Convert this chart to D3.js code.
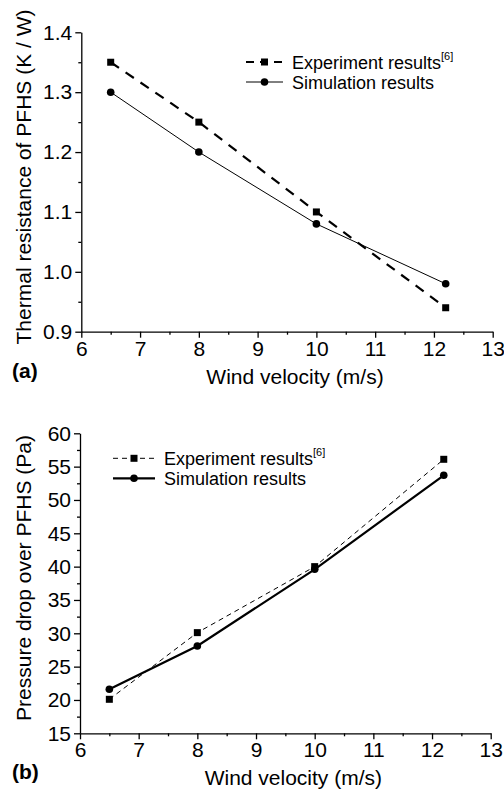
<!DOCTYPE html>
<html>
<head>
<meta charset="utf-8">
<script src="https://cdn.jsdelivr.net/npm/d3@7"></script>
<style>
    body { margin: 0; background: #fff; }
</style>
</head>
<body>
<div id="chart"></div>
<script>
// wind velocity (m/s)
const velocity = [6.5, 8, 10, 12.2];

// (a) thermal resistance (K / W)
const thermal_exp = [1.35, 1.25, 1.10, 0.94];
const thermal_sim = [1.30, 1.20, 1.08, 0.98];

// (b) pressure drop (Pa)
const pressure_exp = [20.1, 30.1, 40.0, 56.1];
const pressure_sim = [21.6, 28.1, 39.6, 53.7];

const x_ticks = [6, 7, 8, 9, 10, 11, 12, 13];
const thermal_ticks = [0.9, 1.0, 1.1, 1.2, 1.3, 1.4];
const pressure_ticks = [15, 20, 25, 30, 35, 40, 45, 50, 55, 60];

const FONT = "'Liberation Sans', Arial, Helvetica";

const svg = d3.select("#chart")
    .append("svg")
    .attr("width", 504)
    .attr("height", 795);

function draw_panel(param) {
    const g = svg.append("g");
    const left = param.left, right = param.right, top = param.top, bottom = param.bottom;

    let x = d3.scaleLinear().domain([6, 13]).range([left, right]);
    let y = d3.scaleLinear().domain(param.y_domain).range([bottom, top]);

    // minor ticks
    g.append("g")
        .attr("transform", "translate(0," + bottom + ")")
        .call(d3.axisBottom(x)
            .tickValues(d3.range(6.5, 13, 1))
            .tickSize(3)
            .tickFormat(""))
        .select(".domain").remove();
    g.append("g")
        .attr("transform", "translate(" + left + ",0)")
        .call(d3.axisLeft(y)
            .tickValues(param.y_minor)
            .tickSize(3)
            .tickFormat(""))
        .select(".domain").remove();

    g.append("g")
        .attr("transform", "translate(0," + bottom + ")")
        .call(d3.axisBottom(x)
            .tickValues(x_ticks)
            .tickSizeInner(6)
            .tickSizeOuter(0)
            .tickPadding(3)
            .tickFormat(d3.format("d")));

    g.append("g")
        .attr("transform", "translate(" + left + ",0)")
        .call(d3.axisLeft(y)
            .tickValues(param.y_ticks)
            .tickSizeInner(6)
            .tickSizeOuter(0)
            .tickPadding(3)
            .tickFormat(param.y_format));

    g.selectAll(".tick line, .domain")
        .attr("stroke", "#000")
        .attr("stroke-width", 1.3);
    g.selectAll(".tick text")
        .attr("fill", "#000")
        .style("font-family", FONT)
        .style("font-size", "21px");

    const exp = velocity.map((v, i) => ({x: v, y: param.exp[i]}));
    const sim = velocity.map((v, i) => ({x: v, y: param.sim[i]}));
    const line = d3.line().x(d => x(d.x)).y(d => y(d.y));

    g.append("path")
        .datum(exp)
        .attr("fill", "none")
        .attr("stroke", "#000")
        .attr("stroke-width", param.exp_width)
        .attr("stroke-dasharray", param.exp_dash)
        .attr("d", line);

    g.append("path")
        .datum(sim)
        .attr("fill", "none")
        .attr("stroke", "#000")
        .attr("stroke-width", param.sim_width)
        .attr("d", line);

    g.selectAll(".sq")
        .data(exp)
        .enter()
        .append("rect")
        .attr("x", d => x(d.x) - 3.5)
        .attr("y", d => y(d.y) - 3.5)
        .attr("width", 7)
        .attr("height", 7)
        .attr("fill", "#000");

    g.selectAll(".dot")
        .data(sim)
        .enter()
        .append("circle")
        .attr("cx", d => x(d.x))
        .attr("cy", d => y(d.y))
        .attr("r", 3.8)
        .attr("fill", "#000");

    // legend
    const lg = param.legend;
    g.append("line")
        .attr("x1", lg.x).attr("x2", lg.x + lg.len)
        .attr("y1", lg.y).attr("y2", lg.y)
        .attr("stroke", "#000")
        .attr("stroke-width", param.exp_width)
        .attr("stroke-dasharray", param.legend_dash);
    g.append("rect")
        .attr("x", lg.x + lg.len / 2 - 3.5)
        .attr("y", lg.y - 3.5)
        .attr("width", 7).attr("height", 7)
        .attr("fill", "#000");
    let t1 = g.append("text")
        .attr("x", lg.x + lg.len + 9)
        .attr("y", lg.y + 7)
        .style("font-family", FONT)
        .style("font-size", "18px");
    t1.append("tspan").text("Experiment results");
    t1.append("tspan").attr("dy", -9).style("font-size", "11px").text("[6]");

    g.append("line")
        .attr("x1", lg.x).attr("x2", lg.x + lg.len)
        .attr("y1", lg.y + 20).attr("y2", lg.y + 20)
        .attr("stroke", "#000")
        .attr("stroke-width", param.sim_width);
    g.append("circle")
        .attr("cx", lg.x + lg.len / 2)
        .attr("cy", lg.y + 20)
        .attr("r", 3.8)
        .attr("fill", "#000");
    g.append("text")
        .attr("x", lg.x + lg.len + 9)
        .attr("y", lg.y + 27)
        .style("font-family", FONT)
        .style("font-size", "18px")
        .text("Simulation results");

    // titles
    g.append("text")
        .attr("x", (left + right) / 2 + 8)
        .attr("y", bottom + 52)
        .attr("text-anchor", "middle")
        .style("font-family", FONT)
        .style("font-size", "21px")
        .text("Wind velocity (m/s)");

    g.append("text")
        .attr("transform", "translate(31," + param.y_title_center + ") rotate(-90)")
        .attr("text-anchor", "middle")
        .style("font-family", FONT)
        .style("font-size", "21px")
        .text(param.title);

    g.append("text")
        .attr("x", 12)
        .attr("y", bottom + 46)
        .style("font-family", FONT)
        .style("font-size", "21px")
        .style("font-weight", "bold")
        .text(param.tag);
}

draw_panel({
    left: 81.3, right: 492.7, top: 32.3, bottom: 331.7,
    y_domain: [0.9, 1.4],
    y_ticks: thermal_ticks,
    y_minor: d3.range(0.95, 1.4, 0.1),
    y_format: d3.format(".1f"),
    exp: thermal_exp, sim: thermal_sim,
    exp_width: 2.2, exp_dash: "10,8", legend_dash: "8,6",
    sim_width: 1,
    legend: {x: 246, y: 62, len: 37},
    title: "Thermal resistance of PFHS (K / W)",
    y_title_center: 177,
    tag: "(a)"
});

draw_panel({
    left: 80, right: 490.7, top: 433.3, bottom: 733.3,
    y_domain: [15, 60],
    y_ticks: pressure_ticks,
    y_minor: d3.range(17.5, 60, 5),
    y_format: d3.format("d"),
    exp: pressure_exp, sim: pressure_sim,
    exp_width: 1, exp_dash: "5,4", legend_dash: "5,4",
    sim_width: 2.2,
    legend: {x: 113, y: 458.3, len: 42},
    title: "Pressure drop over PFHS (Pa)",
    y_title_center: 578,
    tag: "(b)"
});
</script>
</body>
</html>
